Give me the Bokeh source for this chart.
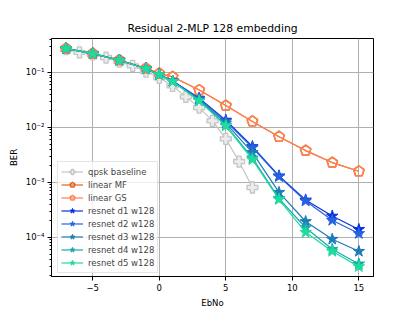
import math
from bokeh.plotting import figure
from bokeh.models import (Range1d, FixedTicker, LogTicker, CustomJSTickFormatter,
                          Legend, LegendItem)
from bokeh.embed import file_html
from bokeh.resources import INLINE

title_text = "Residual 2-MLP 128 embedding"
x_label = "EbNo"
y_label = "BER"

x_qpsk = [-7, -6, -5, -4, -3, -2, -1, 0, 1, 2, 3, 4, 5, 6, 7]
ber_qpsk = [0.265, 0.232, 0.213, 0.187, 0.158, 0.132, 0.104, 0.080, 0.057, 0.036,
            0.023, 0.0132, 0.0062, 0.0024, 0.00081]

x_snr = [-7, -5, -3, -1, 0, 1, 3, 5, 7, 9, 11, 13, 15]
ber_linear_mf = [0.273, 0.221, 0.168, 0.119, 0.096, 0.0835, 0.048, 0.025, 0.0129,
                 0.0068, 0.0038, 0.0023, 0.0016]
ber_linear_gs = [0.273, 0.221, 0.168, 0.119, 0.096, 0.0835, 0.048, 0.025, 0.0129,
                 0.0068, 0.0038, 0.0023, 0.0016]
ber_d1 = [0.272, 0.220, 0.167, 0.118, 0.092, 0.070, 0.0342, 0.0136, 0.0045, 0.00132,
          0.00048, 0.000245, 0.000140]
ber_d2 = [0.272, 0.220, 0.167, 0.117, 0.092, 0.070, 0.0335, 0.0130, 0.0043, 0.00128,
          0.00046, 0.000205, 0.000118]
ber_d3 = [0.272, 0.220, 0.167, 0.117, 0.091, 0.069, 0.0320, 0.0120, 0.0035, 0.00066,
          0.000195, 0.000093, 0.000056]
ber_d4 = [0.272, 0.220, 0.167, 0.117, 0.091, 0.0686, 0.0310, 0.0110, 0.0028, 0.00051,
          0.000150, 0.000061, 0.000033]
ber_d5 = [0.272, 0.220, 0.167, 0.117, 0.091, 0.0686, 0.0305, 0.0107, 0.0026, 0.00049,
          0.000124, 0.000056, 0.0000295]

labels = ["qpsk baseline", "linear MF", "linear GS", "resnet d1 w128",
          "resnet d2 w128", "resnet d3 w128", "resnet d4 w128", "resnet d5 w128"]
colors = ["#c4c4c4", "#e3621c", "#ff8150", "#0a2fe0", "#2563df", "#1c7cb8",
          "#18a8b0", "#1fdc9c"]

FONT = "DejaVu Sans"

p = figure(frame_width=322, frame_height=238,
           min_border_left=51, min_border_right=40, min_border_top=38, min_border_bottom=33,
           y_axis_type="log", x_range=Range1d(-8.1, 16.1), y_range=Range1d(1.95e-5, 0.415),
           output_backend="svg", toolbar_location=None, title=title_text)

p.title.text_font = FONT
p.title.text_font_size = "10.8px"
p.title.text_font_style = "normal"
p.title.align = "center"
p.title.text_color = "black"
p.title.standoff = 7

p.outline_line_color = "black"
p.outline_line_width = 1
p.background_fill_color = "white"
p.border_fill_color = "white"

for g in (p.xgrid, p.ygrid):
    g.grid_line_color = "#b0b0b0"
    g.grid_line_width = 1

p.xaxis.ticker = FixedTicker(ticks=[-5, 0, 5, 10, 15], minor_ticks=[])
p.xaxis.formatter = CustomJSTickFormatter(code="""
return tick < 0 ? '\\u2212' + Math.abs(tick) : String(tick);
""")
p.yaxis.ticker = LogTicker(num_minor_ticks=10)
p.yaxis.formatter = CustomJSTickFormatter(code="""
const e = Math.round(Math.log10(tick));
const sup = {'-':'\\u207b','0':'\\u2070','1':'\\u00b9','2':'\\u00b2','3':'\\u00b3','4':'\\u2074','5':'\\u2075','6':'\\u2076','7':'\\u2077','8':'\\u2078','9':'\\u2079'};
return '10' + String(e).split('').map(c => sup[c]).join('');
""")

for ax in (p.xaxis, p.yaxis):
    ax.axis_line_color = "black"
    ax.major_tick_line_color = "black"
    ax.minor_tick_line_color = "black"
    ax.major_tick_out = 4
    ax.major_tick_in = 0
    ax.minor_tick_out = 2
    ax.minor_tick_in = 0
    ax.major_label_text_font = FONT
    ax.major_label_text_font_size = "8.5px"
    ax.major_label_text_color = "black"
    ax.axis_label_text_font = FONT
    ax.axis_label_text_font_size = "8.5px"
    ax.axis_label_text_font_style = "normal"
    ax.axis_label_text_color = "black"
    ax.major_label_standoff = 3
    ax.axis_label_standoff = 4

p.xaxis.axis_label = x_label
p.yaxis.axis_label = y_label

items = []

# qpsk baseline
l = p.line(x_qpsk, ber_qpsk, line_color=colors[0], line_width=1.2)
m = p.scatter(x_qpsk, ber_qpsk, marker="plus", size=11, fill_color="#ececec",
              line_color=colors[0], line_width=1.3)
items.append(LegendItem(label=labels[0], renderers=[l, m]))


def pentagon(xs, ys, color):
    try:
        return p.ngon(x=xs, y=ys, radius=5.5, radius_units="screen", n=5, angle=0,
                      fill_color=None, line_color=color, line_width=1.5)
    except Exception:
        return p.scatter(xs, ys, marker="hex", size=11, fill_color=None,
                         line_color=color, line_width=1.5)


for lab, col, ys in [(labels[1], colors[1], ber_linear_mf), (labels[2], colors[2], ber_linear_gs)]:
    l = p.line(x_snr, ys, line_color=col, line_width=1.2)
    m = pentagon(x_snr, ys, col)
    items.append(LegendItem(label=lab, renderers=[l, m]))

for lab, col, ys in zip(labels[3:], colors[3:], [ber_d1, ber_d2, ber_d3, ber_d4, ber_d5]):
    l = p.line(x_snr, ys, line_color=col, line_width=1.2)
    m = p.scatter(x_snr, ys, marker="star", size=12, fill_color=col, line_color=col,
                  line_width=1)
    items.append(LegendItem(label=lab, renderers=[l, m]))

legend = Legend(items=items, location=(6, 3), margin=0, padding=3, spacing=0,
                glyph_height=13, glyph_width=22, label_height=13, label_standoff=5,
                label_text_font=FONT, label_text_font_size="8.5px",
                border_line_color="#cccccc", border_line_width=1,
                background_fill_color="white", background_fill_alpha=0.8)
p.add_layout(legend, "center")

open("out.html", "w").write(file_html(p, INLINE))
